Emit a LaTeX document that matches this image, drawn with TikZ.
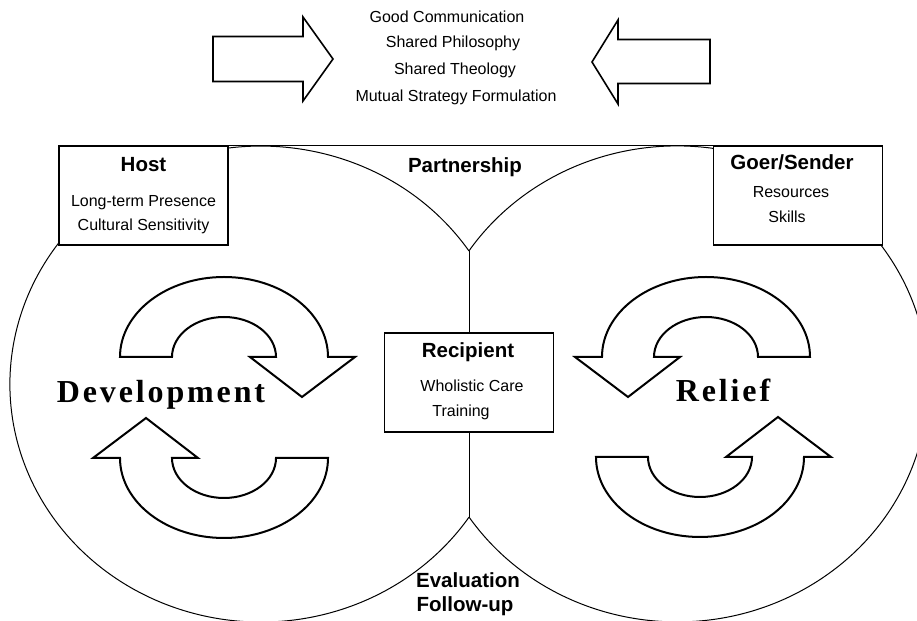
\documentclass[tikz,border=0pt]{standalone}
\usepackage{fontspec}
\setmainfont{Liberation Sans}
\newfontfamily\bigserif[LetterSpace=9]{Liberation Serif}
\usetikzlibrary{positioning}
\tikzset{
  box/.style={draw,fill=white,line width=0.6pt,minimum width=84.5pt,minimum height=49.5pt,inner sep=0pt},
  head/.style={font=\fontsize{10.25}{12}\selectfont\bfseries,inner sep=0pt,anchor=base},
  body/.style={font=\fontsize{8}{10}\selectfont,inner sep=0pt,anchor=base},
  big/.style={font=\fontsize{16}{18}\selectfont\bigserif\bfseries,inner sep=0pt,anchor=base},
  fat/.style={draw,line width=1pt,fill=white},
  flat/.style={draw,line width=0.8pt,fill=white},
  rim/.style={line width=0.5pt}
}
\newcommand\turnarrow[4]{% centre x, centre y, head side (1 right, -1 left), ring (1 top, -1 bottom)
  \pgfmathsetmacro\sa{90+90*#3}
  \pgfmathsetmacro\ea{\sa-180*#3*#4}
  \draw[fat] ({#1-(#3)*104},#2) arc[start angle=\sa,end angle=\ea,x radius=104,y radius=80]
    -- ({#1+(#3)*131},#2) -- ({#1+(#3)*78},{#2-(#4)*40}) -- ({#1+(#3)*26},#2) -- ({#1+(#3)*52},#2)
    arc[start angle=\ea,end angle=\sa,x radius=52,y radius=40] -- cycle;}

\begin{document}
\begin{tikzpicture}[x=0.5pt,y=0.5pt]
    \useasboundingbox (0,0) rectangle (917,621);
    \clip (0,0) rectangle (917,621);

    \coordinate (ptop) at (469,370);
    \coordinate (pbot) at (469,104);
    \draw[rim] (ptop) arc[start angle=34,end angle=326,x radius=251,y radius=238];
    \draw[rim] (pbot) arc[start angle=-146,end angle=146,x radius=251,y radius=238];

    \node(host)[box] at (143.5,425.5) {};
    \node(goer)[box] at (798,425.5) {};
    \node(recipient)[box] at (469,238.5) {};
    \draw[line width=0.6pt] (host.north east) -- (goer.north west);
    \draw[rim] (ptop) -- (recipient.north);
    \draw[rim] (recipient.south) -- (pbot);

    \draw[flat] (213,584.5) -- (303,584.5) -- (303,604) -- (333,562) -- (303,520) -- (303,539.5) -- (213,539.5) -- cycle;
    \draw[flat] (710,581.5) -- (618,581.5) -- (618,601) -- (592,559) -- (618,517) -- (618,537.5) -- (710,537.5) -- cycle;

    \turnarrow{224}{264}{1}{1}
    \turnarrow{224}{163}{-1}{-1}
    \turnarrow{706}{264}{-1}{1}
    \turnarrow{700}{164}{1}{-1}

    \node(goal1)[body] at (447,598) {Good Communication};
    \node(goal2)[body] at (453,573) {Shared Philosophy};
    \node(goal3)[body] at (455,546) {Shared Theology};
    \node(goal4)[body] at (456,519) {Mutual Strategy Formulation};

    \node(hosthead)[head] at (143.5,449) {Host};
    \node(host1)[body] at (143.5,414) {Long-term Presence};
    \node(host2)[body] at (143.5,390) {Cultural Sensitivity};

    \node(goerhead)[head] at (792,451) {Goer/Sender};
    \node(goer1)[body] at (791,423) {Resources};
    \node(goer2)[body] at (787,398) {Skills};

    \node(partner)[head] at (465,448) {Partnership};

    \node(recihead)[head] at (468,263) {Recipient};
    \node(reci1)[body] at (472,229) {Wholistic Care};
    \node(reci2)[body] at (461,204) {Training};

    \node(eval1)[head] at (468,33) {Evaluation};
    \node(eval2)[head] at (465,9) {Follow-up};

    \node(devel)[big] at (161,218) {Development};
    \node(relief)[big] at (723,219) {Relief};
\end{tikzpicture}
\end{document}
